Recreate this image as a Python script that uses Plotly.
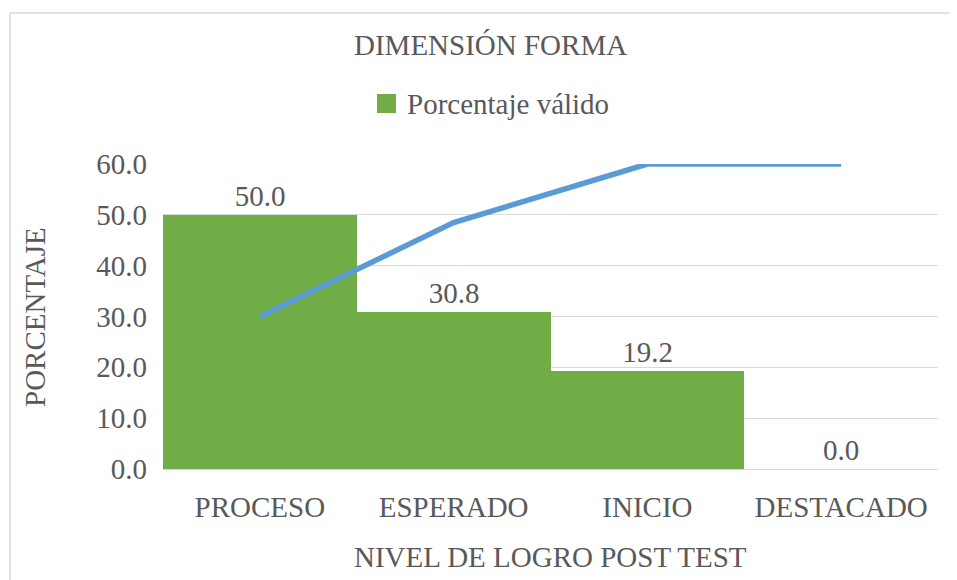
import plotly.graph_objects as go

categorias = ["PROCESO", "ESPERADO", "INICIO", "DESTACADO"]
porcentaje_valido = [50.0, 30.8, 19.2, 0.0]
porcentaje_acumulado = [50.0, 80.8, 100.0, 100.0]
y_ticks = [0, 10, 20, 30, 40, 50, 60]

FONT = "Liberation Serif"
TXT = "#595959"
FS = 29

OFF = 8  # page body margin
W, H = 957 - OFF, 580 - OFF
L, R, T, B = 163, 938, 164, 469
pw, ph = R - L, B - T

def px(x):
    return (x - L) / pw

def py(y):
    return (B - y) / ph

fig = go.Figure()
fig.add_trace(go.Bar(
    x=categorias, y=porcentaje_valido, name="Porcentaje válido",
    marker=dict(color="#70AD47", line=dict(width=0)),
    text=[f"{v:.1f}" for v in porcentaje_valido], textposition="outside",
    textfont=dict(family=FONT, size=FS, color=TXT), cliponaxis=False,
    showlegend=False,
))
fig.add_trace(go.Scatter(
    x=categorias, y=porcentaje_acumulado, yaxis="y2", mode="lines",
    line=dict(color="#5B9BD5", width=5.5), showlegend=False, cliponaxis=False,
))

BORDER = dict(color="#D9D9D9", width=1.5)

fig.update_layout(
    width=W, height=H,
    margin=dict(l=L - OFF, r=(W + OFF) - R, t=T - OFF, b=(H + OFF) - B, pad=0),
    paper_bgcolor="white", plot_bgcolor="white",
    font=dict(family=FONT, size=FS, color=TXT),
    bargap=0,
    xaxis=dict(showgrid=False, showline=False, ticks="", ticklabelstandoff=18,
               tickfont=dict(family=FONT, size=FS, color=TXT)),
    yaxis=dict(range=[0, 60], tickvals=y_ticks, ticktext=[f"{v:.1f}" for v in y_ticks],
               showgrid=True, gridcolor="#D9D9D9", gridwidth=1.3,
               zeroline=True, zerolinecolor="#D9D9D9", zerolinewidth=1.3,
               showline=False, ticks="", ticklabelstandoff=15,
               tickfont=dict(family=FONT, size=FS, color=TXT)),
    yaxis2=dict(range=[0, 100], overlaying="y", visible=False),
    shapes=[
        dict(type="line", xref="paper", yref="paper",
             x0=px(10), x1=px(1000), y0=py(13), y1=py(13), line=BORDER, layer="below"),
        dict(type="line", xref="paper", yref="paper",
             x0=px(10), x1=px(10), y0=py(13), y1=py(620), line=BORDER, layer="below"),
        dict(type="rect", xref="paper", yref="paper",
             x0=px(377), x1=px(396), y0=py(113), y1=py(94),
             line=dict(width=0), fillcolor="#70AD47"),
    ],
    annotations=[
        dict(text="DIMENSIÓN FORMA", xref="paper", yref="paper", x=px(490), y=py(45),
             xanchor="center", yanchor="middle", showarrow=False,
             font=dict(family=FONT, size=FS, color=TXT)),
        dict(text="Porcentaje válido", xref="paper", yref="paper", x=px(405), y=py(104),
             xanchor="left", yanchor="middle", showarrow=False,
             font=dict(family=FONT, size=FS, color=TXT)),
        dict(text="PORCENTAJE", xref="paper", yref="paper", x=px(35), y=py(317),
             xanchor="center", yanchor="middle", showarrow=False, textangle=-90,
             font=dict(family=FONT, size=FS, color=TXT)),
        dict(text="NIVEL DE LOGRO POST TEST", xref="paper", yref="paper", x=0.5, y=py(557),
             xanchor="center", yanchor="middle", showarrow=False,
             font=dict(family=FONT, size=FS, color=TXT)),
    ],
)

fig.write_html("out.html")
